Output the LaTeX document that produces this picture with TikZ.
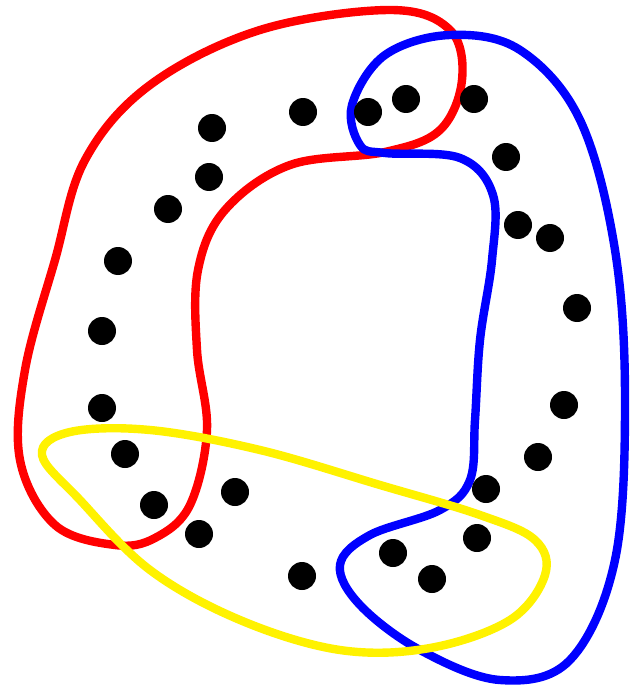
\documentclass[tikz,border=0pt]{standalone}
\usepackage{tikz}
\usetikzlibrary{positioning}

\begin{document}
\begin{tikzpicture}[
  x=0.05cm, y=-0.05cm,
  loop/.style={line width=0.42cm, line join=round},
  pt/.style={circle, fill=black, inner sep=0pt, minimum size=1.4cm}
]
\useasboundingbox (0,0) rectangle (632,687);
\fill[white] (0,0) rectangle (632,687);
% red group
\draw[loop, red] plot[smooth cycle, tension=0.6] coordinates {
  (115,545) (55,525) (20,460) (25,370) (55,260) (85,160) (150,85) (260,30)
  (390,10) (450,30) (462,80) (440,130) (385,152) (290,165) (225,210)
  (198,270) (197,350) (207,430) (190,505) (155,538)};
% blue group
\draw[loop, blue] plot[smooth cycle, tension=0.6] coordinates {
  (385,153) (460,158) (493,195) (492,260) (480,340) (475,420) (470,480)
  (440,510) (370,535) (340,565) (360,605) (420,650) (500,680) (570,660)
  (615,560) (625,400) (615,250) (580,120) (520,50) (450,35) (385,55)
  (352,105) (360,145)};
% yellow group
\draw[loop, yellow] plot[smooth cycle, tension=0.6] coordinates {
  (42,455) (70,432) (150,430) (260,450) (380,485) (480,515) (535,540)
  (545,575) (510,620) (430,648) (340,650) (240,620) (150,570) (80,500)};
% points
\foreach \px/\py [count=\i] in {212/128, 303/112, 368/112, 406/99, 474/99,
  506/157, 209/177, 168/209, 518/225, 550/238, 118/261, 577/308, 102/331,
  102/408, 564/405, 125/454, 538/457, 235/492, 486/489, 154/505, 199/534,
  477/538, 393/553, 302/576, 432/579}
  \node[pt] (p\i) at (\px,\py) {};
\end{tikzpicture}
\end{document}
